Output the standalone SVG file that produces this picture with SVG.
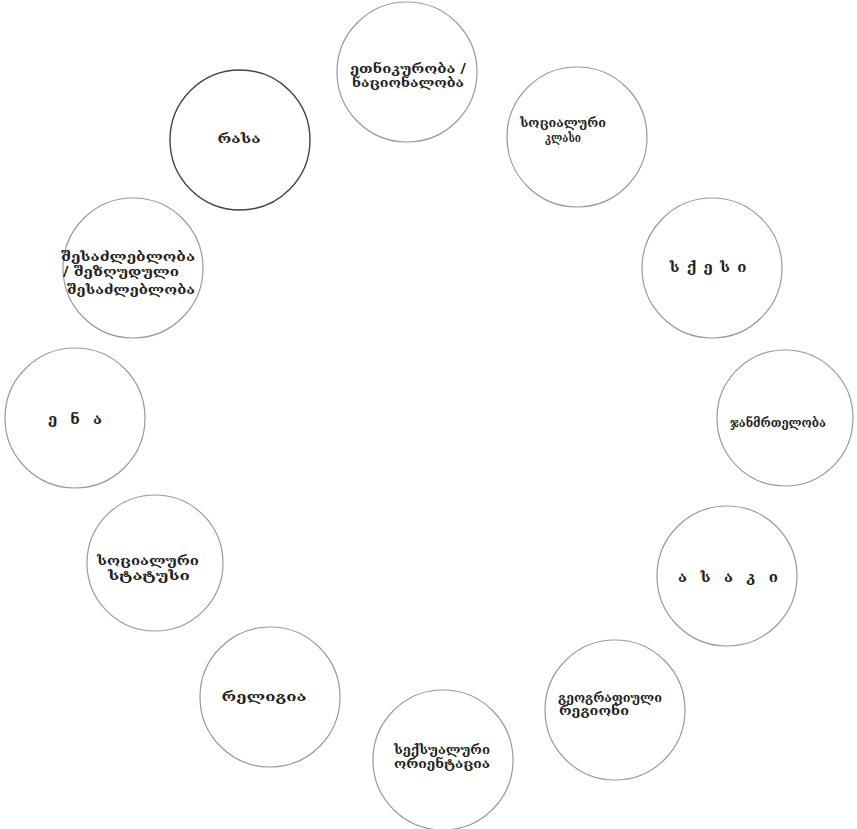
<svg xmlns="http://www.w3.org/2000/svg" width="857" height="829" viewBox="0 0 857 829">
<style>
.c{fill:#fff;stroke:#9a9a9a;stroke-width:1.2}
.d{fill:#fff;stroke:#444;stroke-width:1.4}
text{font-family:"DejaVu Serif","DejaVu Sans",serif;font-weight:bold;font-size:12px;fill:#222;text-anchor:middle}
.w{font-size:15px}
</style>
<rect width="857" height="829" fill="#fff"/>
<g id="connectors"/>
<g id="n1"><circle class="c" cx="407" cy="72" r="70"/><text x="408" y="73" textLength="116" lengthAdjust="spacingAndGlyphs">ეთნიკურობა /</text><text x="408" y="87" textLength="112" lengthAdjust="spacingAndGlyphs">ნაციონალობა</text></g>
<g id="n2"><circle class="c" cx="577" cy="137" r="70"/><text x="563" y="127" textLength="86" lengthAdjust="spacingAndGlyphs">სოციალური</text><text x="563" y="142" textLength="36" lengthAdjust="spacingAndGlyphs">კლასი</text></g>
<g id="n3"><circle class="d" cx="240" cy="140" r="70"/><text x="239" y="143" textLength="43" lengthAdjust="spacingAndGlyphs">რასა</text></g>
<g id="n4"><circle class="c" cx="133" cy="268" r="70"/><text x="128" y="261" textLength="134" lengthAdjust="spacingAndGlyphs">შესაძლებლობა</text><text x="121" y="276" textLength="116" lengthAdjust="spacingAndGlyphs">/ შეზღუდული</text><text x="131" y="294" textLength="128" lengthAdjust="spacingAndGlyphs">შესაძლებლობა</text></g>
<g id="n5"><circle class="c" cx="75" cy="418" r="70"/><text class="w" x="75" y="424" textLength="54" lengthAdjust="spacing">ე ნ ა</text></g>
<g id="n6"><circle class="c" cx="712" cy="268" r="70"/><text class="w" x="708" y="272" textLength="77" lengthAdjust="spacing">ს ქ ე ს ი</text></g>
<g id="n7"><circle class="c" cx="785" cy="418" r="68"/><text x="778" y="427" textLength="96" lengthAdjust="spacingAndGlyphs">ჯანმრთელობა</text></g>
<g id="n8"><circle class="c" cx="727" cy="576" r="70"/><text class="w" x="728" y="582" textLength="100" lengthAdjust="spacing">ა ს ა კ ი</text></g>
<g id="n9"><circle class="c" cx="615" cy="710" r="70"/><text x="610" y="702" textLength="104" lengthAdjust="spacingAndGlyphs">გეოგრაფიული</text><text x="594" y="715" textLength="70" lengthAdjust="spacingAndGlyphs">რეგიონი</text></g>
<g id="n10"><circle class="c" cx="443" cy="760" r="70"/><text x="442" y="754" textLength="96" lengthAdjust="spacingAndGlyphs">სექსუალური</text><text x="442" y="768" textLength="96" lengthAdjust="spacingAndGlyphs">ორიენტაცია</text></g>
<g id="n11"><circle class="c" cx="270" cy="697" r="70"/><text x="264" y="701" textLength="85" lengthAdjust="spacingAndGlyphs">რელიგია</text></g>
<g id="n12"><circle class="c" cx="155" cy="563" r="68"/><text x="148" y="565" textLength="102" lengthAdjust="spacingAndGlyphs">სოციალური</text><text x="149" y="580" textLength="82" lengthAdjust="spacingAndGlyphs">სტატუსი</text></g>
</svg>
